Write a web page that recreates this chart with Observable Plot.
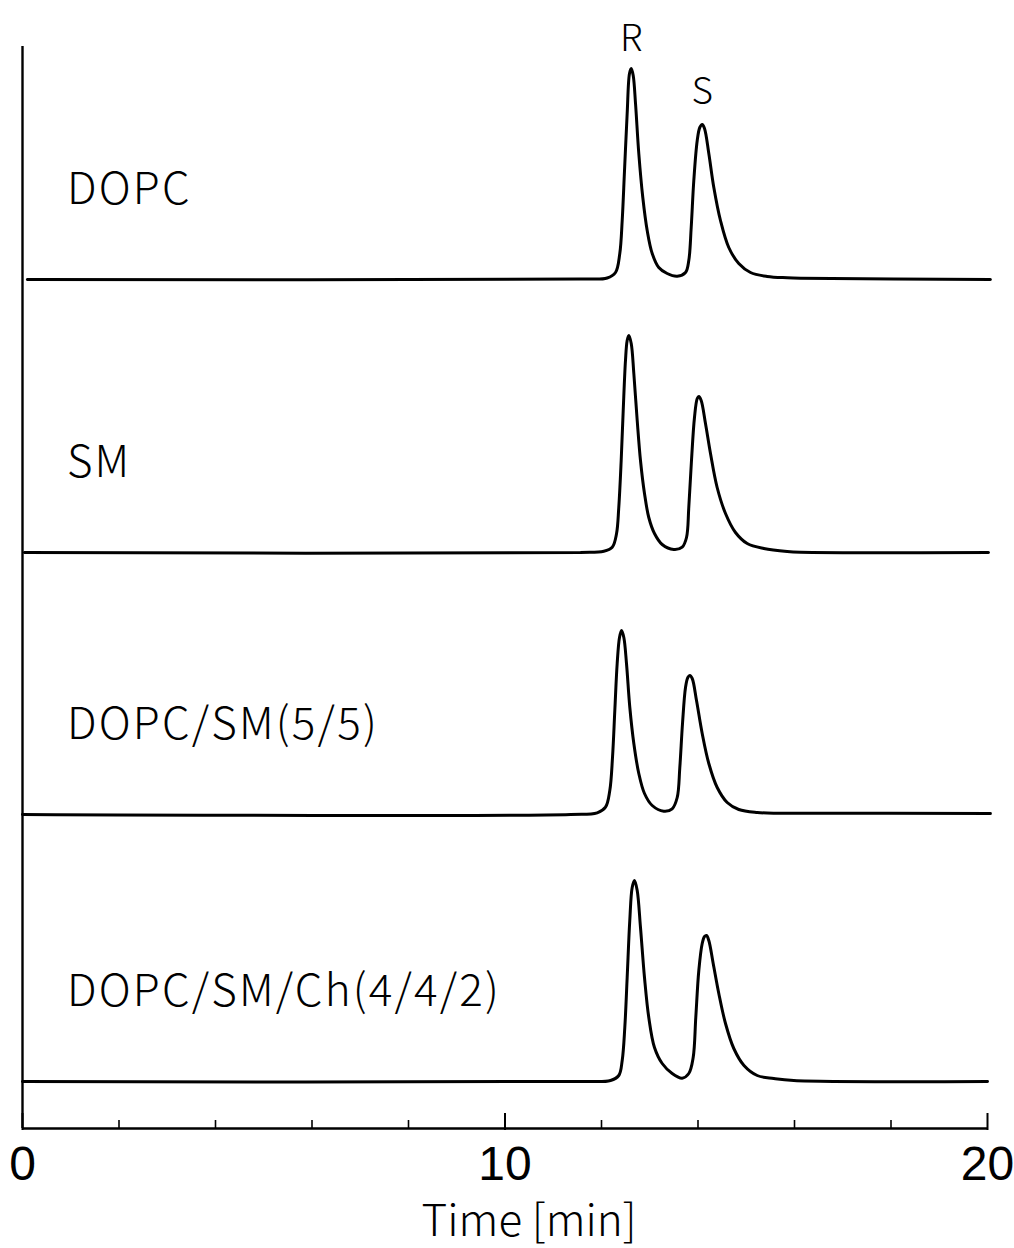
<!DOCTYPE html>
<html><head><meta charset="utf-8">
<script src="https://cdn.jsdelivr.net/npm/d3@7"></script>
<script src="https://cdn.jsdelivr.net/npm/@observablehq/plot@0.6"></script>
<style>body{margin:0;background:#fff}#chart svg{display:block}</style>
</head><body><div id="chart"></div>
<script>
// ---- data ----
const sampleNames = ["DOPC", "SM", "DOPC/SM(5/5)", "DOPC/SM/Ch(4/4/2)"];
const baselineOffsets = [849, 576, 314, 47]; // vertical stacking offset of each trace (signal units)

const dopcTime   = [0.1, 11.565, 12.118, 12.29, 12.379, 12.429, 12.477, 12.532, 12.58, 12.616, 12.657, 12.705, 12.773, 12.856, 12.947, 13.051, 13.187, 13.361, 13.569, 13.741, 13.809, 13.859, 13.913, 13.984, 14.037, 14.087, 14.135, 14.224, 14.328, 14.466, 14.638, 14.845, 15.088, 15.434, 15.849, 16.124, 20.06];
const dopcSignal = [0, 0.5, 1.5, 7, 26, 59, 109, 166, 206, 211, 204, 176, 126, 82, 49, 26, 12, 6, 3.3, 7, 19, 52, 99, 139, 152, 155, 151, 126, 92, 59, 32, 16, 7, 3, 1.7, 1.3, 0];

const smTime   = [0.04, 11.565, 12.048, 12.222, 12.311, 12.358, 12.408, 12.45, 12.497, 12.532, 12.566, 12.616, 12.67, 12.74, 12.808, 12.891, 12.98, 13.098, 13.258, 13.498, 13.672, 13.762, 13.809, 13.865, 13.927, 13.984, 14.017, 14.066, 14.155, 14.259, 14.397, 14.57, 14.777, 15.02, 15.364, 15.848, 16.124, 20.02];
const smSignal = [0, 0, 1.3, 5.3, 18.7, 45, 92, 142, 192, 212, 217, 209, 179, 132, 92, 59, 35, 19, 8, 3, 5.3, 15, 45, 92, 135, 154, 156, 152, 129, 99, 65, 39, 20, 9, 4, 1, 0.3, 0];

const mixTime   = [0, 11.358, 11.911, 12.083, 12.172, 12.228, 12.276, 12.325, 12.373, 12.415, 12.463, 12.518, 12.587, 12.67, 12.773, 12.891, 13.051, 13.291, 13.465, 13.569, 13.623, 13.679, 13.741, 13.789, 13.83, 13.88, 13.969, 14.087, 14.224, 14.398, 14.605, 14.845, 15.227, 15.642, 15.917, 20.06];
const mixSignal = [0, 0, 1.7, 7.3, 24, 57, 104, 151, 177, 184, 177, 151, 107, 71, 41, 21, 9, 3.3, 5.7, 17, 47, 91, 127, 137, 139, 136, 114, 81, 51, 27, 12, 5, 2, 1.3, 1.3, 1];

const chTime   = [0, 11.565, 12.187, 12.358, 12.429, 12.483, 12.532, 12.586, 12.636, 12.684, 12.74, 12.808, 12.891, 12.98, 13.098, 13.258, 13.465, 13.672, 13.809, 13.9, 13.954, 14.017, 14.087, 14.135, 14.176, 14.224, 14.315, 14.431, 14.57, 14.742, 14.953, 15.227, 15.571, 15.985, 20.0];
const chSignal = [0, 0, 1, 6, 21, 54, 104, 161, 194, 201, 191, 154, 104, 64, 34, 18, 8, 3.3, 8, 24, 64, 111, 138, 145, 146, 141, 118, 88, 58, 33, 16, 6, 3, 1, 0];

const peakLabels  = ["R", "S"];
const peakTimes   = [12.616, 14.087];   // peaks of the top (DOPC) trace
const peakHeights = [211, 155];

const majorTicks = [0, 10, 20];
const minorTicks = [2, 4, 6, 8, 12, 14, 16, 18];
const xLabel = "Time [min]";
const axisTop = 1082; // height of the left vertical line

// ---- build tables ----
const seriesTimes = [dopcTime, smTime, mixTime, chTime];
const seriesSignals = [dopcSignal, smSignal, mixSignal, chSignal];
const rows = [];
sampleNames.forEach((name, i) => {
  seriesTimes[i].forEach((t, j) => rows.push({series: name, t, y: baselineOffsets[i] + seriesSignals[i][j]}));
});
const nameRows = sampleNames.map((name, i) => ({name, y: baselineOffsets[i] + 76}));
const peakRows = peakLabels.map((l, i) => ({l, t: peakTimes[i], y: baselineOffsets[0] + peakHeights[i]}));

const labelFont = "'Noto Sans CJK JP', 'Noto Sans', sans-serif";
const peakTextOpts = {x: "t", y: "y", text: "l", lineAnchor: "bottom", fontSize: 37, fontFamily: labelFont, fontWeight: 300, fill: "#000"};

const chart = Plot.plot({
  width: 1014,
  height: 1248,
  marginLeft: 22,
  marginRight: 27,
  marginTop: 0,
  marginBottom: 120,
  style: {background: "#fff", color: "#000"},
  x: {domain: [0, 20]},
  y: {domain: [0, 1128], axis: null},
  marks: [
    Plot.ruleX([0], {y1: 0, y2: axisTop, stroke: "#000", strokeWidth: 2.4}),
    Plot.ruleY([0], {x1: 0, x2: 20, stroke: "#000", strokeWidth: 2.6}),
    Plot.ruleX(majorTicks, {x: d => d, y1: -2, y2: 15, stroke: "#000", strokeWidth: 2}),
    Plot.ruleX(minorTicks, {x: d => d, y1: -1, y2: 8, stroke: "#000", strokeWidth: 1.6}),
    Plot.axisX({ticks: majorTicks, tickSize: 0, tickPadding: 17, fontSize: 48, fontFamily: "'Liberation Sans', Arial, sans-serif", label: null, tickFormat: d => String(d)}),
    Plot.text([xLabel], {x: 10.5, y: -107, text: d => d, lineAnchor: "bottom", fontSize: 44, fontFamily: labelFont, fontWeight: 300, fill: "#000"}),
    Plot.line(rows, {x: "t", y: "y", z: "series", stroke: "#000", strokeWidth: 3, curve: "catmull-rom"}),
    Plot.text(nameRows, {x: 0.92, y: "y", text: "name", textAnchor: "start", lineAnchor: "bottom", fontSize: 44, fontFamily: labelFont, fontWeight: 300, fill: "#000"}),
    Plot.text(peakRows.slice(0, 1), {...peakTextOpts, dy: -18}),
    Plot.text(peakRows.slice(1), {...peakTextOpts, dy: -21})
  ]
});
// wider letter spacing to match the reference's broad Japanese font
d3.select(chart).selectAll("text").each(function () {
  if (sampleNames.includes(this.textContent)) d3.select(this).style("letter-spacing", "2.2px");
});
document.getElementById("chart").appendChild(chart);
</script>
</body></html>
